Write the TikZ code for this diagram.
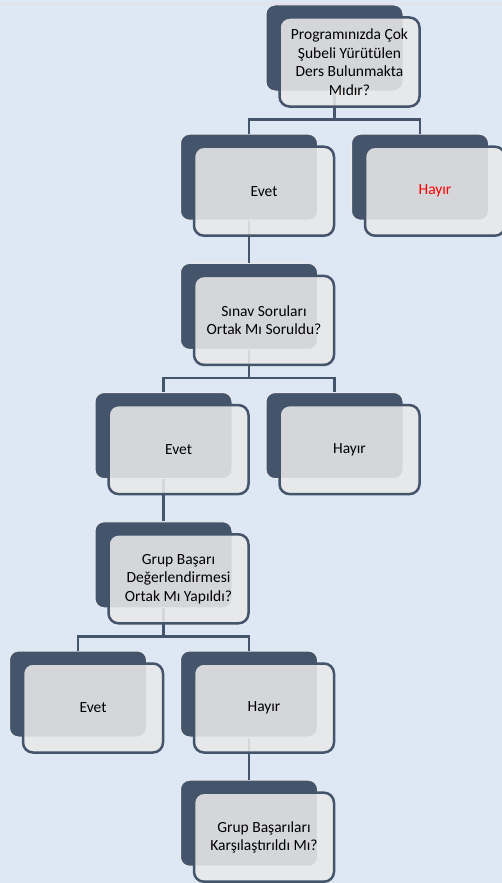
\documentclass[tikz,border=0pt]{standalone}
\usepackage{fontspec}
\usepackage{tikz}
\usetikzlibrary{positioning}
\newfontfamily\boxFont{Carlito}
\definecolor{pageBlue}{RGB}{222,232,245}
\definecolor{topLine}{RGB}{236,220,224}
\definecolor{boxDark}{RGB}{68,84,106}
\definecolor{boxLight}{RGB}{233,233,233}
\definecolor{boxEdge}{RGB}{232,234,238}
\definecolor{noRed}{RGB}{255,0,0}
\tikzstyle{chart} = [x = 1pt, y = -1pt]
\tikzstyle{backBox} = [fill=boxDark, draw=boxEdge, line width=1pt, rounded corners=9pt, minimum width=137pt, minimum height=86pt, inner sep=0pt]
\tikzstyle{frontBox} = [fill=boxLight, fill opacity=.88, text opacity=1, draw=boxDark, line width=2.5pt, rounded corners=10pt, minimum width=140pt, minimum height=89pt, inner sep=0pt, align=center, font={\boxFont\fontsize{15.5}{18.5}\selectfont}]
\tikzstyle{treeLine} = [draw=boxDark, line width=2.5pt]
\newcommand{\colX}[1]{78 + 85.5 * (#1 - 1)}
\newcommand{\rowY}[1]{48 + 129.2 * #1}

\begin{document}
\begin{tikzpicture}[chart]
      \fill[pageBlue] (0,0) rectangle (502,883);
      \useasboundingbox (0,0) rectangle (502,883);
      \draw[topLine, line width=1.5pt] (0,3.5) -- (502,3.5);

      % dark boxes behind
      \foreach \name/\col/\row in {q1/4/0, y1/3/1, n1/5/1, q2/3/2, y2/2/3, n2/4/3, q3/2/4, y3/1/5, n3/3/5, q4/3/6} {
        \node[backBox] (\name) at ({\colX{\col}}, {\rowY{\row}}) {};
      }

      % tree lines
      \draw[treeLine] (q1.south) -- ++(0,28) coordinate (q1Bar) -| (y1.north) (q1Bar) -| (n1.north);
      \draw[treeLine] (y1.south) -- (q2.north);
      \draw[treeLine] (q2.south) -- ++(0,28) coordinate (q2Bar) -| (y2.north) (q2Bar) -| (n2.north);
      \draw[treeLine] (y2.south) -- (q3.north);
      \draw[treeLine] (q3.south) -- ++(0,28) coordinate (q3Bar) -| (y3.north) (q3Bar) -| (n3.north);
      \draw[treeLine] (n3.south) -- (q4.north);

      % light boxes with text
      \foreach \name/\label in {q1/{Programınızda Çok\\Şubeli Yürütülen\\Ders Bulunmakta\\Mıdır?}, y1/Evet, n1/{\textcolor{noRed}{Hayır}}, q2/{Sınav Soruları\\Ortak Mı Soruldu?}, y2/Evet, n2/Hayır, q3/{Grup Başarı\\Değerlendirmesi\\Ortak Mı Yapıldı?}, y3/Evet, n3/Hayır, q4/{Grup Başarıları\\Karşılaştırıldı Mı?}} {
        \node[frontBox] (\name Text) at ([shift={(15,14)}]\name) {\label};
      }
    \end{tikzpicture}
\end{document}
